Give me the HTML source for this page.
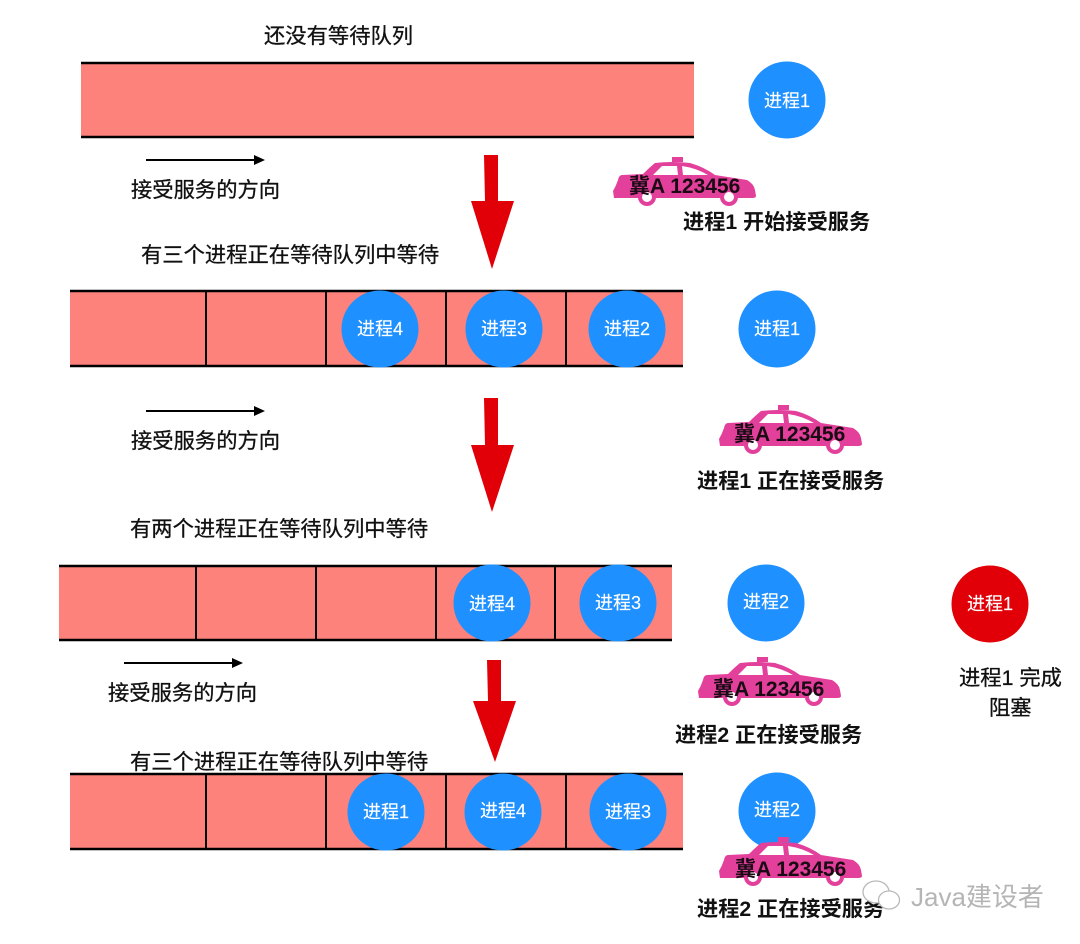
<!DOCTYPE html>
<html><head><meta charset="utf-8">
<style>
html,body{margin:0;padding:0;background:#fff;width:1080px;height:944px;overflow:hidden}
svg{display:block}
text{font-family:"Liberation Sans","Noto Sans CJK SC",sans-serif}
.l{font-size:21.3px;fill:#111;stroke:#111;stroke-width:.3px}
.b{font-size:21.2px;fill:#111;font-weight:bold}
.c{font-size:18px;fill:#fff;text-anchor:middle;stroke:#fff;stroke-width:.15px}
.p{font-size:21px;fill:#1a0a14;font-weight:bold}
</style></head><body>
<svg width="1080" height="944" viewBox="0 0 1080 944" xmlns="http://www.w3.org/2000/svg">
<defs>
<g id="car">
<circle cx="35" cy="41" r="9" fill="#e2409a"/>
<circle cx="117" cy="41" r="9" fill="#e2409a"/>
<rect x="60" y="1" width="11" height="5" fill="#e2409a"/>
<path d="M2,42 L1,35 Q4,30 6,24 Q7,19 10,19 L31,18 Q38,11 43,7 Q60,5 78,7 Q92,11 103,19 L135,24 Q142,28 143,34 L144,40 Q144,42 140,42 L125,42 L109,42 L43,42 L27,42Z" fill="#e2409a"/>
<path d="M41,19 L66,19 L65,10 L50,10Z" fill="#fff"/>
<path d="M70,10 Q84,12 96,19 L71,19Z" fill="#fff"/>
<circle cx="35" cy="41" r="5" fill="#fff"/>
<circle cx="117" cy="41" r="5" fill="#fff"/>
</g>
</defs>

<text class="l" x="264" y="43">还没有等待队列</text>
<rect x="81" y="63" width="613" height="74" fill="#fd827c"/>
<path d="M81,63H694M81,137H694" stroke="#000" stroke-width="2.5"/>
<circle cx="787" cy="100" r="38.5" fill="#1e90ff"/><text class="c" x="787" y="107">进程1</text>

<path d="M146,160H255" stroke="#000" stroke-width="2"/><path d="M254,155L265,160L254,165Z" fill="#000"/>
<text class="l" x="131" y="197">接受服务的方向</text>
<path d="M484,155H498V201H514L492,269L471,201H485Z" fill="#e20008"/>
<use href="#car" x="612" y="156"/><text class="p" x="629" y="193">冀A 123456</text>
<text class="b" x="683" y="229">进程1 开始接受服务</text>

<text class="l" x="141" y="262">有三个进程正在等待队列中等待</text>
<rect x="70" y="291" width="613" height="75" fill="#fd827c"/>
<path d="M70,291H683M70,366H683" stroke="#000" stroke-width="2.5"/>
<path d="M206,291V366M326,291V366M446,291V366M566,291V366" stroke="#000" stroke-width="2"/>
<circle cx="380" cy="329" r="38.5" fill="#1e90ff"/><text class="c" x="380" y="335">进程4</text>
<circle cx="504" cy="329" r="38.5" fill="#1e90ff"/><text class="c" x="504" y="335">进程3</text>
<circle cx="627" cy="329" r="38.5" fill="#1e90ff"/><text class="c" x="627" y="335">进程2</text>
<circle cx="777" cy="329" r="38.5" fill="#1e90ff"/><text class="c" x="777" y="335">进程1</text>

<path d="M146,411H255" stroke="#000" stroke-width="2"/><path d="M254,406L265,411L254,416Z" fill="#000"/>
<text class="l" x="131" y="448">接受服务的方向</text>
<path d="M484,398H498V445H514L492,512L471,445H485Z" fill="#e20008"/>
<use href="#car" x="718" y="404"/><text class="p" x="734" y="441">冀A 123456</text>
<text class="b" x="697" y="488">进程1 正在接受服务</text>

<text class="l" x="130" y="536">有两个进程正在等待队列中等待</text>
<rect x="59" y="566" width="613" height="74" fill="#fd827c"/>
<path d="M59,566H672M59,640H672" stroke="#000" stroke-width="2.5"/>
<path d="M196,566V640M316,566V640M436,566V640M555,566V640" stroke="#000" stroke-width="2"/>
<circle cx="492" cy="603" r="38.5" fill="#1e90ff"/><text class="c" x="492" y="610">进程4</text>
<circle cx="618" cy="603" r="38.5" fill="#1e90ff"/><text class="c" x="618" y="609">进程3</text>
<circle cx="766" cy="603" r="38.5" fill="#1e90ff"/><text class="c" x="766" y="608">进程2</text>
<circle cx="990" cy="604" r="38.5" fill="#e20008"/><text class="c" x="990" y="610">进程1</text>
<text class="l" x="959" y="685">进程1 完成</text>
<text class="l" x="989" y="715">阻塞</text>

<path d="M124,663H233" stroke="#000" stroke-width="2"/><path d="M232,658L243,663L232,668Z" fill="#000"/>
<text class="l" x="108" y="700">接受服务的方向</text>
<path d="M487,660H501V701H516L495,762L473,701H488Z" fill="#e20008"/>
<use href="#car" x="697" y="656"/><text class="p" x="713" y="696">冀A 123456</text>
<text class="b" x="675" y="742">进程2 正在接受服务</text>

<rect x="70" y="774" width="613" height="75" fill="#fd827c"/>
<path d="M70,774H683M70,849H683" stroke="#000" stroke-width="2.5"/>
<path d="M206,774V849M326,774V849M446,774V849M566,774V849" stroke="#000" stroke-width="2"/>
<text class="l" x="130" y="769">有三个进程正在等待队列中等待</text>
<circle cx="386" cy="812" r="38.5" fill="#1e90ff"/><text class="c" x="386" y="818">进程1</text>
<circle cx="503" cy="812" r="38.5" fill="#1e90ff"/><text class="c" x="503" y="817">进程4</text>
<circle cx="628" cy="812" r="38.5" fill="#1e90ff"/><text class="c" x="628" y="818">进程3</text>
<circle cx="777" cy="811" r="38.5" fill="#1e90ff"/><text class="c" x="777" y="816">进程2</text>
<use href="#car" x="718" y="836"/><text class="p" x="735" y="876">冀A 123456</text>
<text class="b" x="697" y="916">进程2 正在接受服务</text>

<g fill="#fff" stroke="#b9b9b9" stroke-width="1.3">
<ellipse cx="876" cy="892" rx="13" ry="11"/>
<ellipse cx="889" cy="900" rx="10.5" ry="9"/>
</g>
<text x="911" y="906" fill="#b5b5b5" style="font-size:26px">Java建设者</text>
</svg>
</body></html>
